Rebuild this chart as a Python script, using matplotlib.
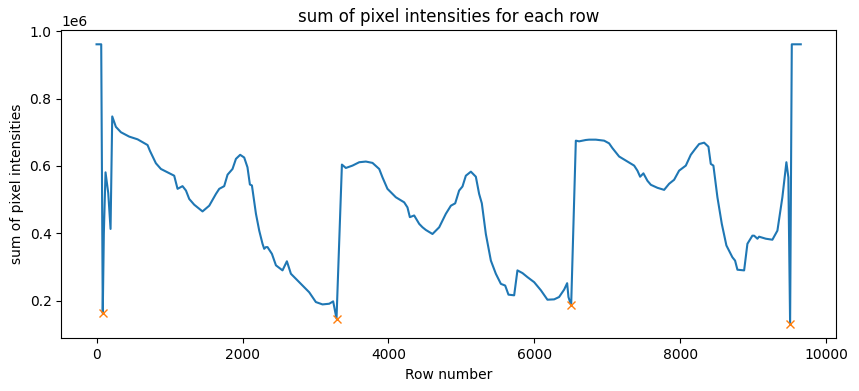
import matplotlib
matplotlib.use("Agg")
import matplotlib.pyplot as plt
import numpy as np

# Row numbers and summed intensities (millions)
rows = [0, 64, 85, 100, 123, 160, 192, 215, 265, 334, 448, 562, 699, 731, 813, 882,
        973, 1064, 1110, 1178, 1225, 1270, 1338, 1452, 1544, 1636, 1681, 1749, 1795,
        1863, 1910, 1968, 2023, 2068, 2101, 2129, 2184, 2229, 2274, 2297, 2320, 2343,
        2403, 2458, 2548, 2608, 2663, 2754, 2845, 2914, 3005, 3096, 3188, 3242, 3288,
        3362, 3416, 3507, 3599, 3690, 3781, 3873, 3918, 3986, 4101, 4215, 4260, 4293,
        4352, 4421, 4466, 4512, 4603, 4695, 4786, 4855, 4914, 4968, 5014, 5060, 5129,
        5197, 5242, 5279, 5334, 5403, 5471, 5540, 5599, 5644, 5722, 5767, 5836, 5904,
        5996, 6088, 6178, 6270, 6338, 6407, 6448, 6466, 6503, 6567, 6612, 6704, 6749,
        6841, 6955, 7023, 7068, 7160, 7252, 7366, 7411, 7448, 7493, 7548, 7595, 7686,
        7777, 7845, 7914, 7982, 8074, 8142, 8201, 8256, 8325, 8384, 8416, 8452, 8507,
        8567, 8630, 8712, 8749, 8781, 8873, 8918, 8986, 9010, 9055, 9078, 9170, 9260,
        9329, 9397, 9452, 9479, 9503, 9526, 9649]
intensity = [0.961, 0.961, 0.163, 0.40, 0.581, 0.52, 0.413, 0.747, 0.716, 0.700, 0.687,
             0.679, 0.662, 0.645, 0.608, 0.591, 0.581, 0.571, 0.532, 0.540, 0.527, 0.502,
             0.485, 0.465, 0.482, 0.517, 0.532, 0.540, 0.574, 0.591, 0.621, 0.633, 0.625,
             0.596, 0.545, 0.542, 0.458, 0.408, 0.369, 0.354, 0.359, 0.359, 0.339, 0.305,
             0.290, 0.317, 0.280, 0.260, 0.240, 0.225, 0.196, 0.189, 0.191, 0.198, 0.147,
             0.604, 0.594, 0.601, 0.611, 0.613, 0.609, 0.591, 0.566, 0.532, 0.507, 0.492,
             0.477, 0.448, 0.453, 0.428, 0.418, 0.410, 0.398, 0.418, 0.458, 0.482, 0.489,
             0.527, 0.539, 0.571, 0.583, 0.568, 0.517, 0.489, 0.398, 0.319, 0.280, 0.250,
             0.245, 0.218, 0.216, 0.290, 0.282, 0.270, 0.255, 0.231, 0.203, 0.204, 0.211,
             0.233, 0.252, 0.211, 0.186, 0.675, 0.673, 0.677, 0.678, 0.678, 0.675, 0.667,
             0.653, 0.628, 0.616, 0.601, 0.586, 0.568, 0.578, 0.556, 0.544, 0.535, 0.529,
             0.547, 0.559, 0.586, 0.601, 0.633, 0.650, 0.665, 0.669, 0.657, 0.606, 0.601,
             0.507, 0.428, 0.364, 0.329, 0.319, 0.292, 0.290, 0.369, 0.393, 0.393, 0.384,
             0.390, 0.384, 0.381, 0.408, 0.507, 0.611, 0.566, 0.130, 0.961, 0.961]

# Detected minima (row, intensity in millions)
min_rows = [85, 3288, 6503, 9503]
min_vals = [0.163, 0.147, 0.186, 0.130]

title = "sum of pixel intensities for each row"
xlabel = "Row number"
ylabel = "sum of pixel intensities"

fig = plt.figure(figsize=(8.59, 3.91), dpi=100)
ax = fig.add_axes([0.0714, 0.1348, 0.9018, 0.7877])
ax.plot(rows, np.array(intensity) * 1e6)
ax.plot(min_rows, np.array(min_vals) * 1e6, "x")
ax.set_title(title)
ax.set_xlabel(xlabel)
ax.set_ylabel(ylabel)
fig.savefig("out.png", dpi=100)
